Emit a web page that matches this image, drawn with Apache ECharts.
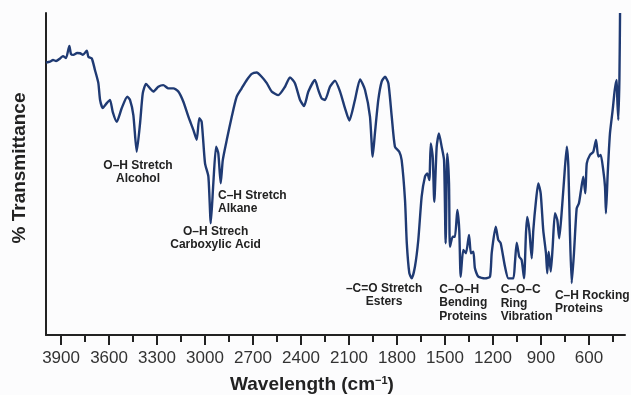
<!DOCTYPE html>
<html>
<head>
<meta charset="utf-8">
<script src="https://cdn.jsdelivr.net/npm/echarts@6/dist/echarts.min.js"></script>
<style>
  html, body { margin: 0; padding: 0; background: #fcfcfd; }
  #chart { width: 631px; height: 395px; }
</style>
</head>
<body>
<div id="chart"></div>
<script>
// FTIR spectrum: wavenumber (cm-1) against % transmittance
const wavenumber = [3994,3969,3950,3931,3906,3888,3869,3848,3838,3823,3800,3781,3763,3739,3729,3708,3688,3667,3656,3639,3614,3594,3577,3552,3521,3486,3469,3448,3427,3406,3389,3369,3344,3323,3292,3261,3229,3198,3167,3136,3104,3073,3052,3036,3021,3000,2979,2964,2948,2931,2917,2902,2889,2864,2833,2802,2771,2739,2708,2677,2646,2614,2583,2542,2500,2469,2438,2406,2381,2354,2313,2292,2271,2250,2219,2188,2156,2125,2098,2063,2031,2000,1969,1952,1938,1917,1896,1875,1854,1833,1813,1786,1771,1750,1739,1723,1708,1688,1667,1646,1625,1611,1598,1589,1577,1567,1552,1538,1521,1506,1496,1486,1475,1469,1452,1438,1423,1411,1402,1386,1369,1350,1338,1323,1313,1292,1250,1219,1208,1183,1167,1152,1125,1104,1073,1063,1052,1036,1021,1006,994,986,973,958,948,931,917,902,886,869,861,852,839,827,813,798,786,773,756,739,729,719,708,694,677,663,650,636,623,614,594,573,556,542,527,511,500,494,483,469,452,439,427,423,417,410,406];

const transmittance = [84.6,84.9,85.4,85.1,85.9,86.6,86.0,89.8,87.3,87.0,87.6,87.5,87.0,88.3,86.4,85.9,82.3,78.3,73.0,70.5,72.0,73.0,69.3,66.2,70.4,74.0,73.0,68.3,56.9,65.8,75.1,78.0,76.6,75.6,77.1,77.6,76.6,76.6,75.6,72.5,67.8,63.7,60.6,67.3,66.2,53.3,49.2,34.7,47.2,58.5,56.4,47.1,54.3,60.6,67.8,74.0,76.6,79.2,81.1,81.5,80.2,78.2,75.6,74.5,77.1,80.0,78.2,73.0,71.1,75.6,79.2,76.1,73.5,73.0,77.1,79.0,75.6,70.4,66.6,73.0,79.4,76.1,67.8,55.4,62.7,73.0,78.7,80.2,78.2,67.8,58.5,56.9,54.3,41.9,28.6,19.2,17.6,21.2,29.5,43.0,49.2,50.2,48.1,59.5,55.4,41.4,58.5,62.6,58.5,54.3,28.5,56.4,47.1,27.4,30.5,30.5,38.8,32.6,18.1,26.4,25.4,31.1,25.4,25.9,20.7,18.1,17.6,18.1,25.5,33.6,29.5,28.5,21.2,17.6,17.6,22.4,28.7,24.3,23.3,17.6,31.6,36.7,32.6,23.8,32.6,41.9,47.1,44.0,32.6,25.4,19.2,25.9,19.7,27.4,37.8,35.7,30.0,36.7,48.1,58.5,52.3,31.6,16.1,25.4,39.3,40.9,45.0,49.2,44.0,53.3,55.9,56.9,60.6,55.4,55.9,51.2,46.1,37.8,50.2,62.6,69.9,76.1,79.2,73.0,66.8,79.2,100];

// Labelled wavenumbers on the x axis, and the unlabelled ticks between them
const majorTicks = [3900, 3600, 3300, 3000, 2700, 2400, 2100, 1800, 1500, 1200, 900, 600];
const minorTicks = [3750, 3450, 3150, 2850, 2550, 2250, 1950, 1650, 1350, 1050, 750, 450];

// Band assignments: text and the spectrum position each one is placed at
const bandNames = [
  'O–H Stretch\nAlcohol',
  'C–H Stretch\nAlkane',
  'O–H Strech\nCarboxylic Acid',
  '–C=O Stretch\nEsters',
  'C–O–H\nBending\nProteins',
  'C–O–C\nRing\nVibration',
  'C–H Rocking\nProteins'
];
const bandAt = [[3419, 54.8], [2919, 45.5], [2934, 34.2], [1881, 16.5], [1536, 16.3], [1152, 16.1], [813, 14.4]];
const bandAlign = ['center', 'left', 'center', 'center', 'left', 'left', 'left'];

const n = Math.min(wavenumber.length, transmittance.length);
const spectrum = [];
for (let i = 0; i < n; i++) spectrum.push([wavenumber[i], transmittance[i]]);

const FONT = '"Liberation Sans", Arial, Helvetica, sans-serif';
const INK = '#222222';

const xRange = { min: 375, max: 3994 };

const chart = echarts.init(document.getElementById('chart'), null, { renderer: 'canvas' });

const axisTitles = [
  {
    type: 'text',
    x: 312, y: 385,
    style: {
      text: '{a|Wavelength (cm}{s|−1}{a|)}',
      align: 'center', verticalAlign: 'middle',
      rich: {
        a: { fontSize: 19, fontWeight: 'bold', fontFamily: FONT, fill: INK, color: INK },
        s: { fontSize: 11, fontWeight: 'bold', fontFamily: FONT, fill: INK, color: INK, padding: [0, 0, 9, 0] }
      }
    }
  },
  {
    type: 'text',
    x: 20, y: 168,
    rotation: Math.PI / 2,
    style: {
      text: '% Transmittance',
      align: 'center', verticalAlign: 'middle',
      fontSize: 19, fontWeight: 'bold', fontFamily: FONT, fill: INK
    }
  }
];

chart.setOption({
  backgroundColor: '#fcfcfd',
  animation: false,
  grid: { left: 46, right: 6, top: 13, bottom: 60, containLabel: false },
  xAxis: [
    {
      type: 'value', inverse: true, min: xRange.min, max: xRange.max,
      position: 'bottom',
      axisLine: { show: true, lineStyle: { color: INK, width: 2 } },
      axisTick: { show: true, customValues: majorTicks, length: 10, inside: false, lineStyle: { color: INK, width: 2 } },
      axisLabel: {
        show: true, customValues: majorTicks, margin: 15,
        color: '#333', fontSize: 17, fontFamily: FONT,
        formatter: v => String(v)
      },
      splitLine: { show: false }
    },
    {
      type: 'value', inverse: true, min: xRange.min, max: xRange.max,
      position: 'bottom', offset: 0,
      axisLine: { show: false },
      axisTick: { show: true, customValues: minorTicks, length: 7, inside: false, lineStyle: { color: INK, width: 2 } },
      axisLabel: { show: false },
      splitLine: { show: false }
    }
  ],
  yAxis: {
    type: 'value', min: 0, max: 100,
    axisLine: { show: true, lineStyle: { color: INK, width: 2 } },
    axisTick: { show: false },
    axisLabel: { show: false },
    splitLine: { show: false }
  },
  series: [{
    type: 'line',
    xAxisIndex: 0,
    data: spectrum,
    showSymbol: false,
    smooth: 0.2,
    lineStyle: { color: '#1f3a73', width: 2.4 },
    clip: true
  }],
  graphic: axisTitles
});

// Band labels placed through the chart's own coordinate conversion
const bandLabels = bandNames.map((name, i) => {
  const p = chart.convertToPixel({ xAxisIndex: 0, yAxisIndex: 0 }, bandAt[i]);
  return {
    type: 'text',
    x: p[0], y: p[1],
    style: {
      text: name,
      align: bandAlign[i],
      verticalAlign: 'top',
      fill: INK,
      fontSize: 12,
      fontWeight: 'bold',
      fontFamily: FONT,
      lineHeight: 13.5
    }
  };
});
chart.setOption({ graphic: axisTitles.concat(bandLabels) });
</script>
</body>
</html>
